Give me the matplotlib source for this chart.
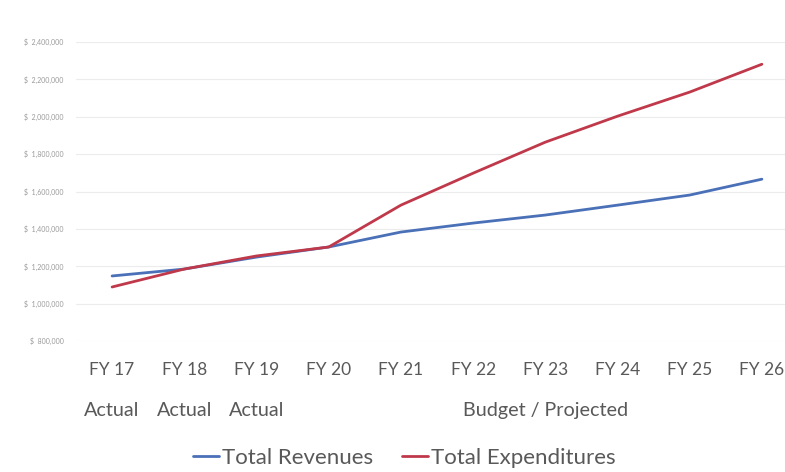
import numpy as np
import matplotlib
matplotlib.use("Agg")
import matplotlib.pyplot as plt

# fiscal years and the two series (dollars)
years = ["FY 17", "FY 18", "FY 19", "FY 20", "FY 21", "FY 22", "FY 23", "FY 24", "FY 25", "FY 26"]
revenues = [1148000, 1185000, 1249000, 1303000, 1383000, 1431000, 1474000, 1527000, 1581000, 1666000]
expenditures = [1089000, 1185000, 1255000, 1303000, 1527000, 1698000, 1864000, 2003000, 2132000, 2281000]
yticks = [800000, 1000000, 1200000, 1400000, 1600000, 1800000, 2000000, 2200000, 2400000]
groups = [("Actual", 0), ("Actual", 1), ("Actual", 2), ("Budget / Projected", 6)]

plt.rcParams['font.family'] = ['Lato', 'DejaVu Sans']
text_color = "#595959"
blue = "#4a70b8"
red = "#c0394b"

fig = plt.figure(figsize=(7.85, 4.72), dpi=100)
ax = fig.add_axes([76 / 785, 131 / 472, 722 / 785, 299 / 472])

x = np.arange(len(years))
ax.plot(x, revenues, color=blue, lw=2.0, label="Total Revenues", solid_capstyle="round")
ax.plot(x, expenditures, color=red, lw=2.0, label="Total Expenditures", solid_capstyle="round")

ax.set_xlim(-0.5, 9.5)
ax.set_ylim(yticks[0], yticks[-1])
ax.set_yticks(yticks)
ax.set_yticklabels([f"$  {v:,.0f}" for v in yticks], fontsize=5, color="#9a9a9a")
ax.yaxis.grid(True, color="#ececec", lw=0.8)
ax.set_axisbelow(True)
ax.tick_params(axis="y", length=0, pad=9)
ax.set_xticks(x)
ax.set_xticklabels(years, fontsize=12.5, color=text_color)
ax.tick_params(axis="x", length=0, pad=15)

for s in ax.spines.values():
    s.set_visible(False)

# second level of category labels
for label, pos in groups:
    ax.annotate(label, xy=(pos, 0), xycoords=("data", "axes fraction"),
                xytext=(0, -50), textcoords="offset points", ha="center", va="center",
                fontsize=14.2, color=text_color)

leg = fig.legend(loc="center", bbox_to_anchor=(404 / 785, 1 - 458 / 472), ncol=2,
                 frameon=False, fontsize=16, handlelength=1.2, handletextpad=0.1,
                 columnspacing=1.3, labelcolor=text_color)

fig.savefig("out.png", dpi=100)
